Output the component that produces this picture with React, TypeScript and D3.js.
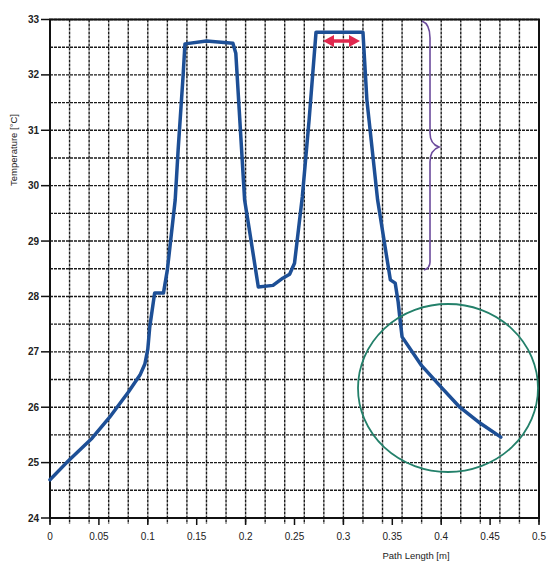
import React, { useEffect, useRef } from "react";
import * as d3 from "d3";

const pathLength = [0, 0.017, 0.043, 0.061, 0.08, 0.092, 0.097, 0.1, 0.102, 0.107, 0.116, 0.12, 0.128, 0.131, 0.136, 0.138, 0.16, 0.187, 0.19, 0.199, 0.203, 0.213, 0.228, 0.238, 0.245, 0.25, 0.258, 0.265, 0.272, 0.32, 0.324, 0.335, 0.348, 0.353, 0.356, 0.358, 0.36, 0.38, 0.399, 0.419, 0.44, 0.461];
const temperature = [24.69, 25.0, 25.44, 25.82, 26.27, 26.58, 26.78, 27.05, 27.45, 28.06, 28.06, 28.48, 29.74, 30.64, 31.96, 32.56, 32.61, 32.57, 32.39, 29.74, 29.3, 28.17, 28.2, 28.33, 28.4, 28.6, 29.8, 31.2, 32.77, 32.77, 31.55, 29.74, 28.3, 28.24, 27.9, 27.57, 27.27, 26.75, 26.38, 26.0, 25.71, 25.46];
const xTicks = [0, 0.05, 0.1, 0.15, 0.2, 0.25, 0.3, 0.35, 0.4, 0.45, 0.5];
const xTickLabels = ["0", "0.05", "0.1", "0.15", "0.2", "0.25", "0.3", "0.35", "0.4", "0.45", "0.5"];
const yTicks = [24, 25, 26, 27, 28, 29, 30, 31, 32, 33];

export default function App() {
  const ref = useRef<SVGSVGElement>(null);
  useEffect(() => {
    const svg = d3.select(ref.current);
    svg.selectAll("*").remove();
    const L = 50, R = 539, T = 19.5, B = 518;
    const x = d3.scaleLinear().domain([0, 0.5]).range([L, R]);
    const y = d3.scaleLinear().domain([24, 33]).range([B, T]);
    const font = "'Liberation Sans Narrow', 'Liberation Sans', Arial, sans-serif";

    svg.append("rect").attr("width", 547).attr("height", 563).attr("fill", "#fff");

    const grid = svg.append("g");
    const vg = d3.range(0, 0.5001, 0.02);
    grid.selectAll("line.v").data(vg).enter().append("line")
      .attr("x1", d => x(d)).attr("x2", d => x(d)).attr("y1", T).attr("y2", B + 6)
      .attr("stroke", "#1a1a1a").attr("stroke-width", 1.4).attr("stroke-dasharray", "3,1");
    const hg = d3.range(24, 33.001, 0.5);
    grid.selectAll("line.h").data(hg).enter().append("line")
      .attr("x1", L).attr("x2", R).attr("y1", d => y(d)).attr("y2", d => y(d))
      .attr("stroke", "#1a1a1a").attr("stroke-width", 1.4).attr("stroke-dasharray", "3,1");

    // frame
    svg.append("rect").attr("x", L).attr("y", T).attr("width", R - L).attr("height", B - T)
      .attr("fill", "none").attr("stroke", "#111").attr("stroke-width", 2);

    // y ticks
    const yt = svg.append("g");
    yt.selectAll("line").data(yTicks).enter().append("line")
      .attr("x1", L - 9).attr("x2", L).attr("y1", d => y(d)).attr("y2", d => y(d))
      .attr("stroke", "#111").attr("stroke-width", 1.5);
    yt.selectAll("text").data(yTicks).enter().append("text")
      .attr("x", L - 11).attr("y", d => y(d) + 3.5).attr("text-anchor", "end")
      .attr("font-family", font).attr("font-size", 10).attr("font-weight", "bold").attr("fill", "#222")
      .text(d => d);

    // x ticks
    const xt = svg.append("g");
    xt.selectAll("line").data(xTicks).enter().append("line")
      .attr("x1", d => x(d)).attr("x2", d => x(d)).attr("y1", B).attr("y2", B + 7)
      .attr("stroke", "#111").attr("stroke-width", 1.5);
    xt.selectAll("text").data(xTicks).enter().append("text")
      .attr("x", d => x(d)).attr("y", B + 22).attr("text-anchor", "middle")
      .attr("font-family", font).attr("font-size", 10).attr("fill", "#222")
      .text((d, i) => xTickLabels[i]);

    svg.append("text").attr("x", 416).attr("y", 559).attr("text-anchor", "middle")
      .attr("font-family", font).attr("font-size", 9.5).attr("fill", "#222").text("Path Length [m]");
    svg.append("text").attr("transform", "translate(17,150) rotate(-90)").attr("text-anchor", "middle")
      .attr("font-family", font).attr("font-size", 9.5).attr("fill", "#222").text("Temperature [°C]");

    // data line
    const data = pathLength.map((p, i) => [p, temperature[i]] as [number, number]);
    const line = d3.line<[number, number]>().x(d => x(d[0])).y(d => y(d[1]));
    svg.append("path").attr("d", line(data)).attr("fill", "none")
      .attr("stroke", "#1d4f96").attr("stroke-width", 3.5).attr("stroke-linejoin", "round").attr("stroke-linecap", "round");

    // red double arrow
    const ax1 = 323, ax2 = 360, ay = 41;
    svg.append("line").attr("x1", ax1 + 8).attr("x2", ax2 - 8).attr("y1", ay).attr("y2", ay)
      .attr("stroke", "#e0284e").attr("stroke-width", 3.5);
    svg.append("path").attr("d", `M${ax1},${ay} L${ax1 + 11},${ay - 6} L${ax1 + 11},${ay + 6} Z`).attr("fill", "#e0284e");
    svg.append("path").attr("d", `M${ax2},${ay} L${ax2 - 11},${ay - 6} L${ax2 - 11},${ay + 6} Z`).attr("fill", "#e0284e");

    // purple brace
    svg.append("path")
      .attr("d", "M422,21 Q430,24 430,38 L430,133 Q430,144 439,147 Q430,150 430,162 L430,262 Q430,268 424,270")
      .attr("fill", "none").attr("stroke", "#6b4a9c").attr("stroke-width", 1.6);

    // green ellipse
    svg.append("ellipse").attr("cx", 448).attr("cy", 388).attr("rx", 90).attr("ry", 84)
      .attr("fill", "none").attr("stroke", "#23806a").attr("stroke-width", 1.8);
  }, []);
  return <svg ref={ref} width={547} height={563} style={{ position: "absolute", left: 0, top: 0 }} />;
}
